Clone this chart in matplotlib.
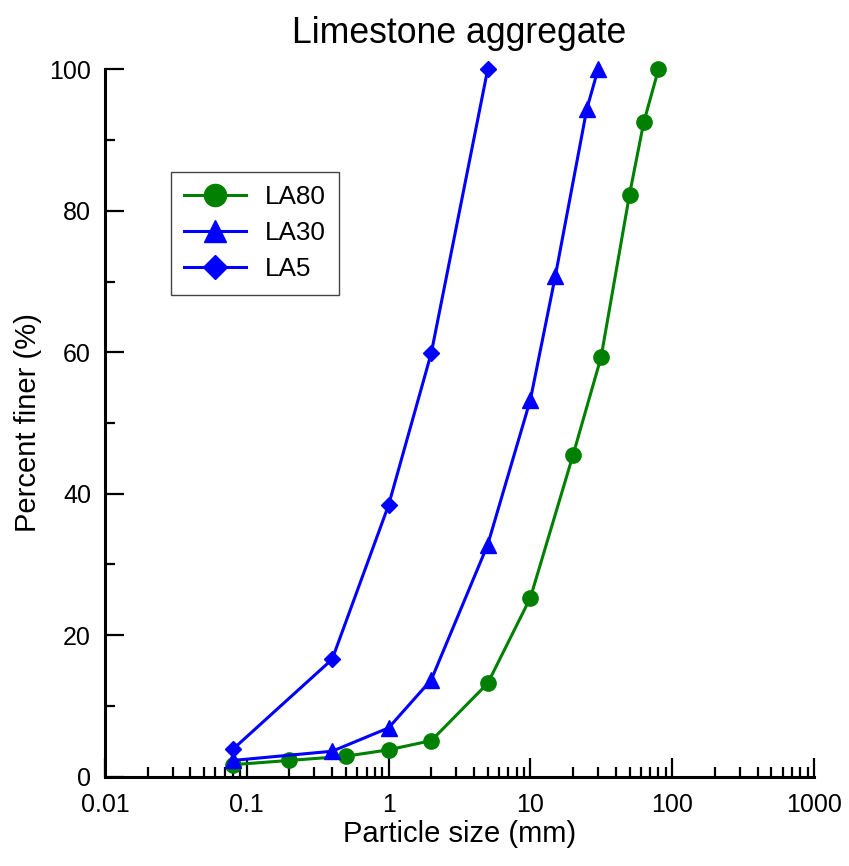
import matplotlib
matplotlib.use("Agg")
import matplotlib.pyplot as plt
from matplotlib.ticker import MultipleLocator, LogLocator, FixedLocator, FixedFormatter, NullFormatter

plt.rcParams["font.family"] = ["Liberation Sans", "DejaVu Sans"]

# sieve sizes (mm) and percent finer
la80_size = [0.08, 0.2, 0.5, 1, 2, 5, 10, 20, 31.5, 50, 63, 80]
la80_pass = [1.7, 2.3, 2.9, 3.8, 5.1, 13.2, 25.3, 45.5, 59.3, 82.3, 92.5, 100]

la30_size = [0.08, 0.4, 1, 2, 5, 10, 15, 25, 30]
la30_pass = [2.3, 3.6, 6.9, 13.7, 32.8, 53.3, 70.8, 94.4, 100]

la5_size = [0.08, 0.4, 1, 2, 5]
la5_pass = [3.9, 16.6, 38.4, 59.9, 100]

x_ticks = [0.01, 0.1, 1, 10, 100, 1000]
x_tick_labels = ["0.01", "0.1", "1", "10", "100", "1000"]
y_ticks = [0, 20, 40, 60, 80, 100]

fig = plt.figure(figsize=(8.49, 8.66), dpi=100)
ax = fig.add_axes([105 / 849, 89.3 / 866, 709 / 849, 707.4 / 866])

lw = 2.2
ax.plot(la80_size, la80_pass, color="green", marker="o", markersize=11, lw=lw, label="LA80", clip_on=False, zorder=3)
ax.plot(la30_size, la30_pass, color="#0000ff", marker="^", markersize=11, lw=lw, label="LA30", clip_on=False, zorder=3)
ax.plot(la5_size, la5_pass, color="#0000ff", marker="D", markersize=8.5, lw=lw, label="LA5", clip_on=False, zorder=3)

ax.set_xscale("log")
ax.set_xlim(0.01, 1000)
ax.set_ylim(0, 100)
ax.xaxis.set_major_locator(FixedLocator(x_ticks))
ax.xaxis.set_major_formatter(FixedFormatter(x_tick_labels))
ax.xaxis.set_minor_locator(LogLocator(base=10, subs=range(2, 10), numticks=20))
ax.xaxis.set_minor_formatter(NullFormatter())
ax.yaxis.set_major_locator(FixedLocator(y_ticks))
ax.yaxis.set_minor_locator(MultipleLocator(10))

for s in ["top", "right"]:
    ax.spines[s].set_visible(False)
for s in ["left", "bottom"]:
    ax.spines[s].set_linewidth(2.2)

ax.tick_params(which="major", direction="in", length=13.5, width=1.6, labelsize=18, pad=12)
ax.tick_params(which="minor", direction="in", length=7.5, width=1.6)
ax.tick_params(axis="y", which="major", pad=10)

ax.set_title("Limestone aggregate", fontsize=25.7, pad=19)
ax.set_xlabel("Particle size (mm)", fontsize=21, labelpad=2)
ax.set_ylabel("Percent finer (%)", fontsize=21, labelpad=5)

leg = ax.legend(loc="upper left", bbox_to_anchor=(0.0927, 0.855), borderaxespad=0,
                fontsize=18.8, markerscale=1.45, handlelength=2.4, labelspacing=0.47,
                fancybox=False, framealpha=1, edgecolor="#444444", borderpad=0.5,
                handletextpad=0.7)
leg.get_frame().set_linewidth(1.0)

fig.savefig("out.png", dpi=100)
